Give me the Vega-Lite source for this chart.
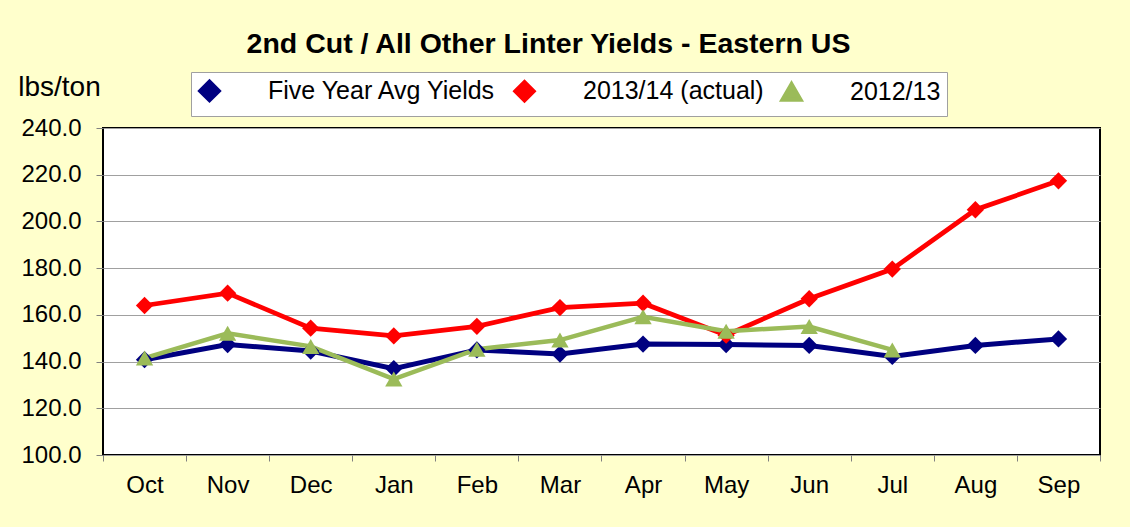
{
  "$schema": "https://vega.github.io/schema/vega-lite/v6.json",
  "width": 997,
  "height": 327,
  "autosize": {"type": "none"},
  "padding": {"left": 103, "top": 128, "right": 30, "bottom": 72},
  "background": "#FFFFCC",
  "config": {
    "font": "Liberation Sans",
    "view": {"fill": "white", "stroke": "black", "strokeWidth": 2}
  },
  "title": {
    "text": "2nd Cut / All Other Linter Yields - Eastern US",
    "fontSize": 28.5,
    "fontWeight": "bold",
    "color": "black",
    "anchor": "middle",
    "frame": "group",
    "dx": -53,
    "offset": 13
  },
  "data": {
    "values": [
      {"month": "Oct", "series": "Five Year Avg Yields", "value": 140.8},
      {"month": "Nov", "series": "Five Year Avg Yields", "value": 147.3},
      {"month": "Dec", "series": "Five Year Avg Yields", "value": 144.5},
      {"month": "Jan", "series": "Five Year Avg Yields", "value": 137.0},
      {"month": "Feb", "series": "Five Year Avg Yields", "value": 145.0},
      {"month": "Mar", "series": "Five Year Avg Yields", "value": 143.2},
      {"month": "Apr", "series": "Five Year Avg Yields", "value": 147.5},
      {"month": "May", "series": "Five Year Avg Yields", "value": 147.3},
      {"month": "Jun", "series": "Five Year Avg Yields", "value": 146.9},
      {"month": "Jul", "series": "Five Year Avg Yields", "value": 142.2},
      {"month": "Aug", "series": "Five Year Avg Yields", "value": 146.9},
      {"month": "Sep", "series": "Five Year Avg Yields", "value": 149.7},
      {"month": "Oct", "series": "2013/14 (actual)", "value": 164.0},
      {"month": "Nov", "series": "2013/14 (actual)", "value": 169.3},
      {"month": "Dec", "series": "2013/14 (actual)", "value": 154.3},
      {"month": "Jan", "series": "2013/14 (actual)", "value": 151.0},
      {"month": "Feb", "series": "2013/14 (actual)", "value": 155.1},
      {"month": "Mar", "series": "2013/14 (actual)", "value": 163.1},
      {"month": "Apr", "series": "2013/14 (actual)", "value": 165.0},
      {"month": "May", "series": "2013/14 (actual)", "value": 151.3},
      {"month": "Jun", "series": "2013/14 (actual)", "value": 166.9},
      {"month": "Jul", "series": "2013/14 (actual)", "value": 179.6},
      {"month": "Aug", "series": "2013/14 (actual)", "value": 205.0},
      {"month": "Sep", "series": "2013/14 (actual)", "value": 217.4},
      {"month": "Oct", "series": "2012/13", "value": 141.5},
      {"month": "Nov", "series": "2012/13", "value": 152.1},
      {"month": "Dec", "series": "2012/13", "value": 146.5},
      {"month": "Jan", "series": "2012/13", "value": 132.5},
      {"month": "Feb", "series": "2012/13", "value": 145.3},
      {"month": "Mar", "series": "2012/13", "value": 149.2},
      {"month": "Apr", "series": "2012/13", "value": 159.2},
      {"month": "May", "series": "2012/13", "value": 153.0},
      {"month": "Jun", "series": "2012/13", "value": 155.0},
      {"month": "Jul", "series": "2012/13", "value": 145.0}
    ]
  },
  "encoding": {
    "x": {
      "field": "month",
      "type": "nominal",
      "sort": ["Oct", "Nov", "Dec", "Jan", "Feb", "Mar", "Apr", "May", "Jun", "Jul", "Aug", "Sep"],
      "scale": {"type": "band", "paddingInner": 0, "paddingOuter": 0},
      "axis": {
        "title": null,
        "tickBand": "extent",
        "domain": false,
        "grid": false,
        "ticks": true,
        "tickSize": 6,
        "tickColor": "#808080",
        "labelFontSize": 24,
        "labelColor": "black",
        "labelPadding": 12,
        "labelAngle": 0
      }
    },
    "y": {
      "field": "value",
      "type": "quantitative",
      "scale": {"domain": [100, 240], "nice": false, "zero": false},
      "axis": {
        "title": "lbs/ton",
        "titleAngle": 0,
        "titleX": -44,
        "titleY": -33,
        "titleAlign": "center",
        "titleBaseline": "alphabetic",
        "titleFontSize": 28,
        "titleFontWeight": "normal",
        "titleColor": "black",
        "values": [100, 120, 140, 160, 180, 200, 220, 240],
        "format": ".1f",
        "labelFontSize": 24,
        "labelColor": "black",
        "labelPadding": 15,
        "tickSize": 7,
        "tickColor": "#808080",
        "domain": false,
        "grid": true,
        "gridColor": "#A0A0A0",
        "gridWidth": 1
      }
    },
    "color": {
      "field": "series",
      "type": "nominal",
      "scale": {
        "domain": ["Five Year Avg Yields", "2013/14 (actual)", "2012/13"],
        "range": ["#000080", "#FF0000", "#9BBB59"]
      },
      "legend": {
        "title": null,
        "orient": "none",
        "legendX": 88,
        "legendY": -56,
        "direction": "horizontal",
        "columns": 3,
        "padding": 6,
        "fillColor": "white",
        "strokeColor": "#A0A0A0",
        "cornerRadius": 0,
        "labelFontSize": 25,
        "labelColor": "black",
        "labelOffset": 46,
        "columnPadding": 9,
        "labelLimit": 400,
        "symbolSize": 900,
        "symbolStrokeWidth": 4,
        "symbolOpacity": 1
      }
    }
  },
  "layer": [
    {
      "mark": {"type": "line"},
      "encoding": {
        "strokeWidth": {
          "field": "series",
          "type": "ordinal",
          "scale": {"domain": ["Five Year Avg Yields", "2013/14 (actual)", "2012/13"], "range": [5, 4.5, 6]},
          "legend": null
        }
      }
    },
    {
      "mark": {"type": "point", "filled": true, "opacity": 1},
      "encoding": {
        "shape": {
          "field": "series",
          "type": "nominal",
          "scale": {"domain": ["Five Year Avg Yields", "2013/14 (actual)", "2012/13"], "range": ["diamond", "diamond", "triangle-up"]},
          "legend": null
        },
        "size": {
          "field": "series",
          "type": "ordinal",
          "scale": {"domain": ["Five Year Avg Yields", "2013/14 (actual)", "2012/13"], "range": [300, 300, 360]},
          "legend": null
        }
      }
    }
  ]
}
